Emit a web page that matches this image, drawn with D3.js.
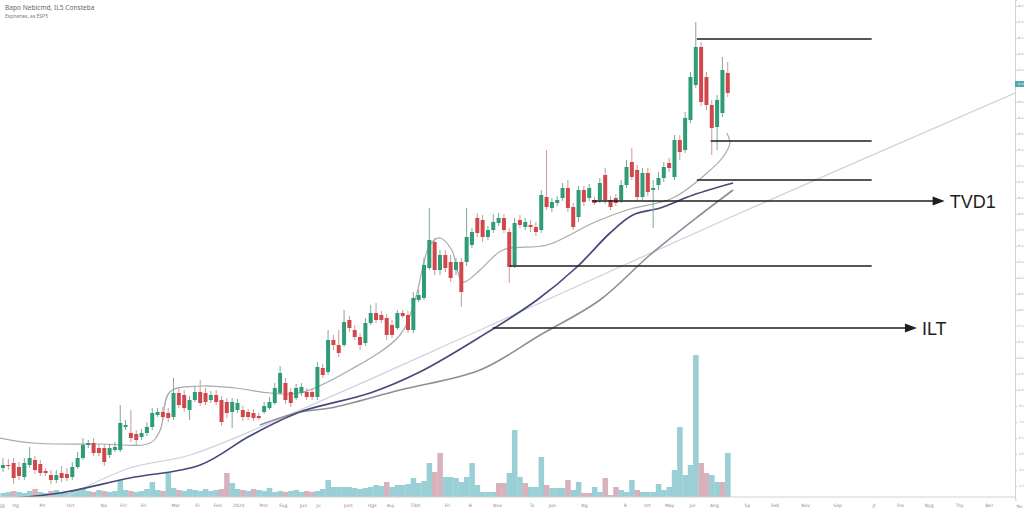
<!DOCTYPE html>
<html><head><meta charset="utf-8">
<script src="https://cdn.jsdelivr.net/npm/d3@7"></script>
<style>html,body{margin:0;padding:0;background:#fff;}svg{display:block;}</style>
</head><body>
<svg id="c" width="1024" height="512"></svg>
<script>
// ---------- DATA ----------
const title = "Bapo Nebicmd, IL5 Consteba";
const subtitle = "Espnanes, as ESP5";
// candle OHLC (price units), one per period
const open  = [32,35,37,33,23,35,40,36,29,25,20,27,26,23,33,42,55,57,52,52,45,50,50,73,67,66,63,67,73,85,88,87,83,107,105,90,100,108,107,100,105,100,98,88,90,90,88,87,84,88,92,97,107,117,108,102,107,108,108,103,132,128,160,155,155,180,170,163,157,177,187,185,182,175,172,187,185,170,200,202,232,258,230,245,238,230,238,238,255,282,280,263,270,277,282,268,235,280,273,275,273,270,303,292,297,302,312,293,283,310,302,300,300,325,300,302,300,315,338,330,303,327,310,315,322,337,323,360,350,380,415,453,423,395,373,387,427];
const close = [35,34,22,24,37,42,30,27,27,20,25,22,22,33,42,55,57,47,47,38,52,53,77,75,62,60,67,73,87,88,83,82,107,95,92,100,108,97,98,105,98,78,87,98,97,83,83,82,82,94,98,112,127,100,97,112,113,103,103,133,125,160,155,147,178,172,163,155,177,187,180,180,165,165,187,184,170,202,205,235,260,230,245,232,222,238,208,263,268,267,263,270,278,282,270,233,277,275,278,273,268,305,293,298,300,312,292,273,310,298,312,297,317,300,293,297,315,333,323,303,327,308,312,322,333,332,360,348,382,423,453,398,395,372,400,430,407];
const high  = [42,41,42,38,42,53,44,40,32,30,30,34,32,38,48,62,60,62,56,56,56,58,95,80,90,70,71,78,92,92,93,92,122,112,110,104,114,120,112,109,110,104,102,102,101,94,91,91,87,98,103,117,134,122,112,116,117,112,111,138,136,170,165,170,190,184,175,167,182,195,197,189,186,180,190,190,189,208,210,242,292,262,250,250,245,242,242,292,272,287,285,274,286,287,286,272,282,285,282,280,278,310,350,302,304,317,320,297,314,314,316,303,322,332,304,306,320,340,352,335,332,332,320,328,338,342,365,365,388,428,478,458,428,400,405,443,438];
const low   = [28,30,16,20,20,32,26,24,24,16,17,18,19,20,31,40,52,44,44,34,42,48,48,70,58,55,60,64,70,83,80,78,80,92,88,80,98,94,95,97,95,74,82,72,87,79,80,79,80,86,90,95,105,96,93,100,104,100,100,100,122,125,150,143,153,168,160,150,154,175,177,177,160,162,170,182,167,167,198,200,230,225,225,228,218,225,193,234,252,263,258,260,267,274,267,217,232,272,270,268,264,267,290,288,294,299,288,270,278,294,299,295,297,296,290,294,297,312,320,300,300,304,272,310,318,328,320,340,347,377,412,394,390,345,350,383,403];
// volume per period and the periods whose volume bar is drawn in the "down" colour
const volume = [4,5,6,5,4,6,8,5,4,6,7,5,4,6,7,9,6,5,7,6,5,6,17,7,6,5,6,8,15,7,6,24,9,7,6,8,7,6,8,6,7,8,24,14,8,7,6,8,7,6,9,5,6,5,6,7,5,6,5,6,8,17,10,10,10,10,9,8,9,10,12,11,15,10,12,12,13,19,14,16,34,25,44,20,20,19,15,20,34,12,5,5,5,14,14,24,67,20,14,10,10,40,12,9,9,9,17,7,15,4,4,10,5,19,2,10,7,5,17,7,5,5,5,13,7,10,27,70,22,32,142,34,24,22,15,15,44];
const volDown = [2,6,9,17,19,24,30,33,41,42,45,47,53,57,58,72,81,82,93,94,98,102,106,109,110,113,114,115,119,131,132,135];
// moving-average style lines: [period, price]
const navyLine  = [[-0.6,1],[10.7,7],[23.8,22],[37.0,35],[46.3,64],[55.7,88],[68.9,107],[78.2,128],[89.5,163],[100.2,200],[107.7,233],[113.9,267],[118.2,285],[123.3,292],[129.5,305],[137.0,317]];
const iltLine   = [[48.2,75],[55.7,88],[61.4,92],[74.5,110],[89.5,130],[100.8,165],[112.0,200],[121.4,245],[130.8,285],[137.0,310]];
const lightLine = [[10.7,0],[23.8,32],[35.1,45],[55.7,90],[89.5,170],[134.5,278],[189.9,407]];
const bandLine  = [[-0.6,62],[5.6,57],[18.2,56],[27.6,57],[29.5,70],[31.3,108],[37.0,114],[43.5,112],[50.1,107],[55.7,107],[65.1,130],[74.5,165],[77.3,200],[80.1,255],[82.0,262],[84.2,250],[86.3,218],[89.5,230],[93.8,250],[102.1,255],[110.7,277],[117.1,290],[125.7,302],[132.1,327],[135.1,343],[136.4,357],[135.8,367]];
// horizontal levels: price, start period, end period, optional label
const levelPrice = [461,359,320,299,234,172];
const levelFrom  = [130.2,132.8,130.2,110.5,95.1,91.9];
const levelTo    = [163.0,163.0,163.0,176.7,163.0,171.5];
const levelLabel = ["","","","TVD1","","ILT"];
// axes
const yTicks = [14,30,46,62,78,94,110,126,142,158,174,190,206,222,238,254,270,286,302,318,334,350,366,382,398,430,446,462,478,494];
const lastPrice = 416;
const xTickPos = [-0.2,2.3,7.3,12.6,18.8,22.5,26.3,32.3,36.4,40.2,44.1,48.8,52.5,56.3,59.1,64.7,69.2,72.6,77.3,83.3,87.6,92.7,99.2,103.0,109.0,116.7,120.8,125.0,129.3,133.4,139.6,144.8,150.5,156.5,163.4,168.3,173.7,179.4,185.0];
const xTickLabels = ["Jg","Og","Prl","Oct","Na","Fcl","Fri","Mar","Fl","Fed","2020","Pml","Fug","Jun","Ju","Junt","Ugs","Auj","Tiblt","Fri","B","Nov","To","Jun","Ng","R","Ort","May","Jul","Ang","Sp","Feb","Nov","Sep","Jr","Fra","Nyg","Thy","Ber"];
const xMaxPeriod = 189.9;

// ---------- CHART ----------
const svg = d3.select("#c");
const plotR = 1015, plotB = 497;
const x = d3.scaleLinear().domain([0, xMaxPeriod]).range([3, plotR]);
const y = d3.scaleLinear().domain([0, 500]).range([500, 0]);
const yv = d3.scaleLinear().domain([0, 150]).range([plotB, plotB - 150]);
const step = x(1) - x(0);
const fmtTick = d => d3.format(".1f")(d / 10);

svg.append("defs").append("clipPath").attr("id","clip")
  .append("rect").attr("x",0).attr("y",0).attr("width",plotR).attr("height",plotB);
const g = svg.append("g").attr("clip-path","url(#clip)");

// volume
const downSet = new Set(volDown);
g.append("g").selectAll("rect").data(volume).join("rect")
  .attr("x",(d,i)=>x(i)-step/2).attr("width",step+0.2)
  .attr("y",d=>yv(d)).attr("height",d=>plotB-yv(d))
  .attr("fill",(d,i)=>downSet.has(i)?"#d3a9b4":"#8fcad1").attr("opacity",0.9);

// lines
const line = d3.line().x(d=>x(d[0])).y(d=>y(d[1])).curve(d3.curveCatmullRom.alpha(0.5));
g.append("path").attr("d",line(lightLine)).attr("fill","none").attr("stroke","#cdd3df").attr("stroke-width",1.3);
g.append("path").attr("d",line(bandLine)).attr("fill","none").attr("stroke","#a9a9ad").attr("stroke-width",1.2);
g.append("path").attr("d",line(iltLine)).attr("fill","none").attr("stroke","#8e8e98").attr("stroke-width",1.6);
g.append("path").attr("d",line(navyLine)).attr("fill","none").attr("stroke","#464a78").attr("stroke-width",1.7);

// candles
const candles = open.map((o,i)=>({i,o,c:close[i],h:high[i],l:low[i]}));
const cg = g.append("g");
cg.selectAll("line").data(candles).join("line")
  .attr("x1",d=>x(d.i)).attr("x2",d=>x(d.i))
  .attr("y1",d=>y(d.h)).attr("y2",d=>y(d.l))
  .attr("stroke",d=>d.c>=d.o?"#7fa99a":"#c99a9a").attr("stroke-width",1);
cg.selectAll("rect").data(candles).join("rect")
  .attr("x",d=>x(d.i)-2).attr("width",4)
  .attr("y",d=>y(Math.max(d.o,d.c))).attr("height",d=>Math.max(1,Math.abs(y(d.o)-y(d.c))))
  .attr("fill",d=>d.c>=d.o?"#2f9c78":"#d0484c");

// level lines
const lv = svg.append("g");
levelPrice.forEach((p,k)=>{
  const yy = y(p), x1 = x(levelFrom[k]), x2 = x(levelTo[k]);
  if (levelLabel[k]) {
    lv.append("line").attr("x1",x1).attr("x2",x2-10).attr("y1",yy).attr("y2",yy).attr("stroke","#1e1e1e").attr("stroke-width",1.5);
    lv.append("path").attr("d",`M${x2},${yy} L${x2-12},${yy-4.5} L${x2-12},${yy+4.5} Z`).attr("fill","#1e1e1e");
    lv.append("text").attr("x",x2+5).attr("y",yy+6.5).text(levelLabel[k])
      .attr("font-family","'Liberation Sans',Arial,sans-serif").attr("font-size",18).attr("fill","#1e1e1e");
  } else {
    lv.append("line").attr("x1",x1).attr("x2",x2).attr("y1",yy).attr("y2",yy).attr("stroke","#1e1e1e").attr("stroke-width",1.5);
  }
});

// right axis
const ya = svg.append("g").attr("transform",`translate(${plotR},0)`)
  .call(d3.axisRight(y).tickValues(yTicks).tickSize(2).tickFormat(fmtTick));
ya.select(".domain").attr("stroke","#d2d2d2");
ya.selectAll(".tick line").attr("stroke","#c8c8c8");
ya.selectAll(".tick text").attr("font-size",3).attr("fill","#9a9a9a").attr("x",8.4)
  .attr("text-anchor","end").attr("font-family","'DejaVu Sans Condensed','DejaVu Sans',sans-serif");
const lp = svg.append("g").attr("transform",`translate(${plotR},${y(lastPrice)})`);
lp.append("rect").attr("x",0).attr("y",-3).attr("width",9).attr("height",6).attr("fill","#4fa9b3");
lp.append("text").attr("x",8.4).attr("y",1.1).attr("text-anchor","end").text(fmtTick(lastPrice))
  .attr("font-size",3).attr("fill","#fff").attr("font-family","'DejaVu Sans Condensed','DejaVu Sans',sans-serif");

// bottom axis
const xa = svg.append("g").attr("transform",`translate(0,${plotB})`)
  .call(d3.axisBottom(x).tickValues(xTickPos).tickSize(0).tickFormat((d,i)=>xTickLabels[i]));
xa.select(".domain").attr("stroke","#d2d2d2").attr("d",`M0,0H${plotR}`);
xa.selectAll(".tick text").attr("font-size",4.5).attr("fill","#8a8a8a").attr("dy",7).attr("font-family","'DejaVu Sans',sans-serif");
svg.append("text").attr("x",1023).attr("y",508).attr("text-anchor","end").text("Tec").attr("font-size",4).attr("fill","#8a8a8a").attr("font-family","'DejaVu Sans',sans-serif");

// title
svg.append("text").attr("x",5).attr("y",10).text(title).attr("font-size",6.6).attr("fill","#6a6a6a").attr("font-family","'Noto Sans',sans-serif");
svg.append("text").attr("x",5).attr("y",18).text(subtitle).attr("font-size",5).attr("fill","#7a7a7a").attr("font-family","'Noto Sans',sans-serif");
</script>
</body></html>
